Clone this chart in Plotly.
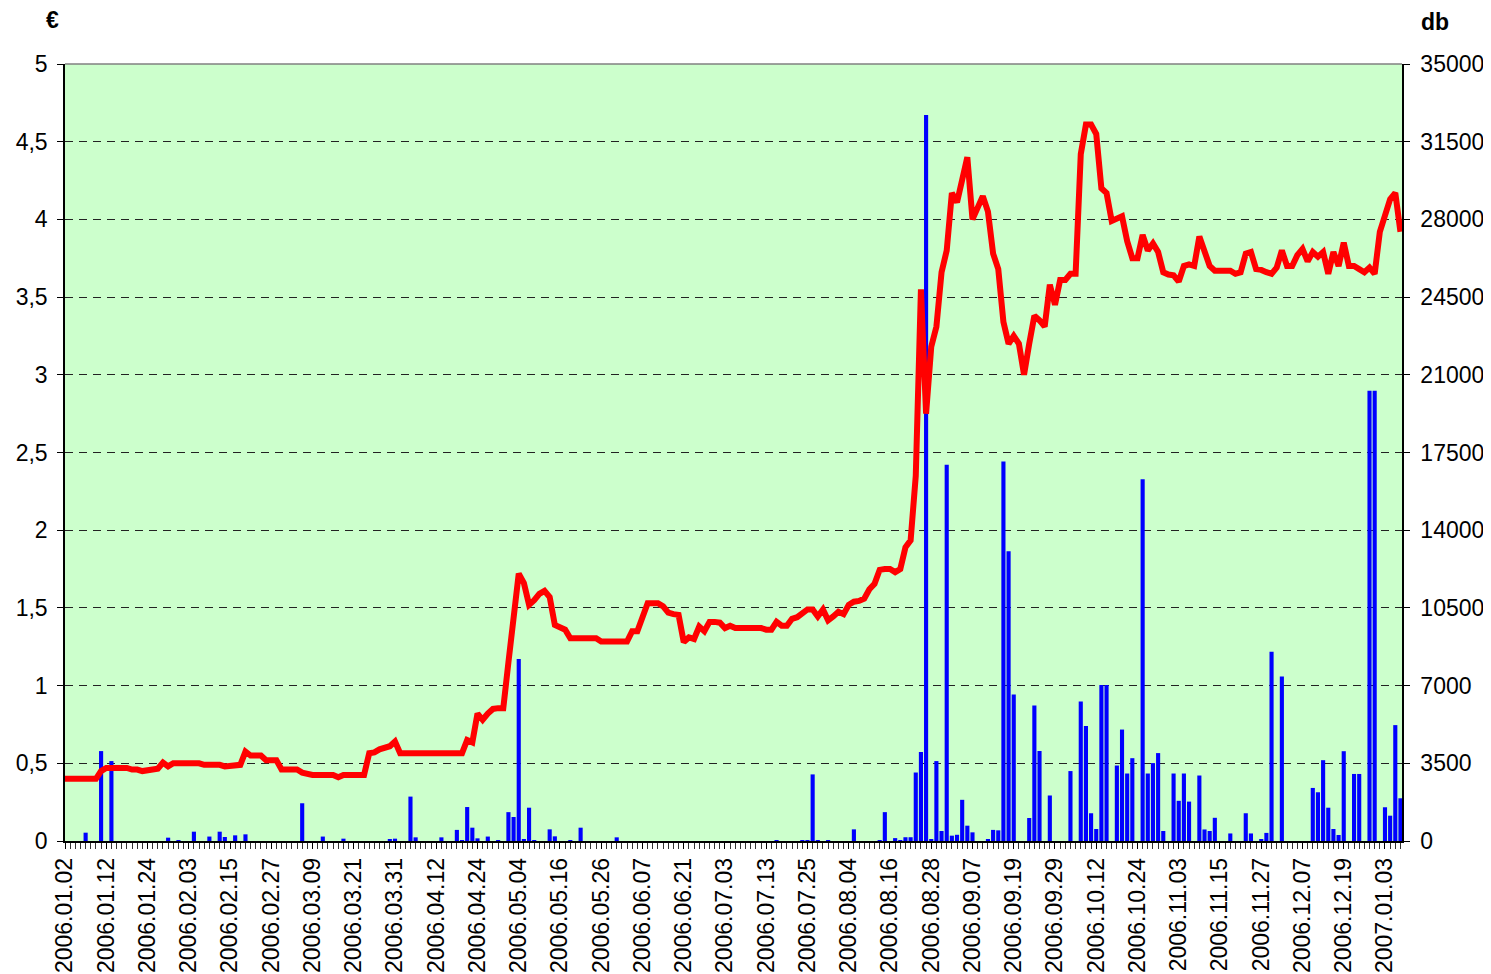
import plotly.graph_objects as go

# Tick labels on the category axis (every 8th trading day)
TICK_LABELS = ["2006.01.02", "2006.01.12", "2006.01.24", "2006.02.03", "2006.02.15",
               "2006.02.27", "2006.03.09", "2006.03.21", "2006.03.31", "2006.04.12",
               "2006.04.24", "2006.05.04", "2006.05.16", "2006.05.26", "2006.06.07",
               "2006.06.21", "2006.07.03", "2006.07.13", "2006.07.25", "2006.08.04",
               "2006.08.16", "2006.08.28", "2006.09.07", "2006.09.19", "2006.09.29",
               "2006.10.12", "2006.10.24", "2006.11.03", "2006.11.15", "2006.11.27",
               "2006.12.07", "2006.12.19", "2007.01.03"]
LABEL_STEP = 8

# Price in EUR (red line), one value per trading day
PRICE = [
    0.40, 0.40, 0.40, 0.40, 0.40, 0.40, 0.40, 0.45, 0.47, 0.47,
    0.47, 0.47, 0.47, 0.46, 0.46, 0.45, 0.46, 0.46, 0.465, 0.505,
    0.48, 0.50, 0.50, 0.50, 0.50, 0.50, 0.50, 0.49, 0.49, 0.49,
    0.49, 0.48, 0.485, 0.49, 0.49, 0.575, 0.55, 0.55, 0.55, 0.52,
    0.52, 0.52, 0.46, 0.46, 0.46, 0.46, 0.44, 0.43, 0.425, 0.425,
    0.425, 0.425, 0.425, 0.41, 0.425, 0.425, 0.425, 0.425, 0.425, 0.565,
    0.57, 0.59, 0.60, 0.61, 0.64, 0.565, 0.565, 0.565, 0.565, 0.565,
    0.565, 0.565, 0.565, 0.565, 0.565, 0.565, 0.565, 0.565, 0.65, 0.635,
    0.82, 0.78, 0.82, 0.85, 0.855, 0.855, 1.15, 1.45, 1.72, 1.66,
    1.52, 1.55, 1.59, 1.61, 1.57, 1.39, 1.37, 1.36, 1.305, 1.305,
    1.305, 1.305, 1.305, 1.305, 1.283, 1.283, 1.283, 1.283, 1.283, 1.283,
    1.35, 1.35, 1.44, 1.53, 1.53, 1.53, 1.51, 1.47, 1.46, 1.455,
    1.28, 1.31, 1.30, 1.38, 1.35, 1.41, 1.41, 1.405, 1.37, 1.385,
    1.37, 1.37, 1.37, 1.37, 1.37, 1.37, 1.36, 1.36, 1.41, 1.385,
    1.385, 1.43, 1.44, 1.465, 1.49, 1.49, 1.445, 1.49, 1.42, 1.445,
    1.475, 1.46, 1.52, 1.54, 1.545, 1.56, 1.62, 1.655, 1.745, 1.75,
    1.75, 1.73, 1.75, 1.89, 1.935, 2.35, 3.55, 2.75, 3.18, 3.31,
    3.66, 3.80, 4.17, 4.11, 4.28, 4.40, 4.00, 4.08, 4.15, 4.05,
    3.78, 3.68, 3.34, 3.20, 3.25, 3.20, 3.00, 3.20, 3.38, 3.35,
    3.31, 3.58, 3.45, 3.61, 3.61, 3.65, 3.65, 4.42, 4.61, 4.61,
    4.55, 4.20, 4.17, 3.99, 4.00, 4.02, 3.86, 3.75, 3.75, 3.90,
    3.80, 3.845, 3.79, 3.66, 3.645, 3.64, 3.60, 3.70, 3.71, 3.70,
    3.89, 3.78, 3.70, 3.67, 3.67, 3.67, 3.67, 3.65, 3.66, 3.78,
    3.79, 3.68, 3.675, 3.66, 3.65, 3.69, 3.80, 3.70, 3.70, 3.77,
    3.81, 3.73, 3.79, 3.76, 3.79, 3.65, 3.79, 3.70, 3.85, 3.70,
    3.70, 3.68, 3.66, 3.69, 3.65, 3.92, 4.02, 4.13, 4.17, 3.92,
]

# Traded volume in pieces (db), blue bars
VOLUME = [
    0, 0, 0, 0, 375, 0, 0, 4050, 0, 3600,
    0, 0, 0, 0, 0, 0, 0, 0, 0, 0,
    150, 0, 45, 0, 0, 420, 0, 0, 200, 0,
    420, 180, 0, 255, 0, 300, 0, 0, 0, 0,
    0, 0, 0, 0, 0, 0, 1700, 0, 0, 0,
    200, 0, 0, 0, 105, 0, 0, 0, 0, 0,
    0, 0, 0, 50, 105, 0, 0, 2000, 165, 0,
    0, 0, 0, 165, 0, 0, 500, 30, 1530, 600,
    120, 0, 200, 0, 30, 0, 1300, 1080, 8200, 90,
    1500, 45, 0, 0, 525, 210, 0, 0, 45, 0,
    600, 0, 0, 0, 0, 0, 0, 165, 0, 0,
    0, 0, 0, 0, 0, 0, 0, 0, 0, 0,
    0, 0, 0, 0, 0, 0, 0, 0, 0, 0,
    0, 0, 0, 0, 0, 0, 0, 0, 30, 0,
    0, 0, 0, 30, 30, 3000, 30, 0, 30, 0,
    0, 0, 0, 525, 0, 0, 0, 0, 30, 1300,
    0, 130, 40, 170, 170, 3085, 4010, 32700, 90, 3600,
    450, 16950, 240, 280, 1855, 690, 390, 0, 0, 60,
    500, 480, 17100, 13050, 6600, 0, 0, 1035, 6100, 4055,
    0, 2050, 0, 0, 0, 3150, 0, 6280, 5180, 1250,
    540, 7030, 7030, 0, 3400, 5020, 3040, 3730, 0, 16300,
    3040, 3510, 3960, 450, 0, 3040, 1810, 3040, 1775, 0,
    2950, 520, 450, 1045, 0, 0, 340, 0, 0, 1250,
    340, 0, 80, 365, 8530, 0, 7415, 0, 0, 0,
    0, 0, 2390, 2195, 3640, 1500, 540, 270, 4045, 0,
    3020, 3020, 0, 20280, 20280, 0, 1520, 1140, 5220, 1925,
]

PRICE_TICKS = [0, 0.5, 1, 1.5, 2, 2.5, 3, 3.5, 4, 4.5, 5]
VOLUME_TICKS = [0, 3500, 7000, 10500, 14000, 17500, 21000, 24500, 28000, 31500, 35000]

FONT = "Liberation Sans, Arial, sans-serif"
idx = list(range(len(PRICE)))
tick_pos = [i * LABEL_STEP for i in range(len(TICK_LABELS))]

fig = go.Figure()
fig.add_trace(go.Bar(x=idx, y=VOLUME, marker=dict(color="#0000FF", line=dict(width=0)),
                     yaxis="y", showlegend=False))
fig.add_trace(go.Scatter(x=idx, y=PRICE, mode="lines", line=dict(color="#FF0000", width=6),
                         yaxis="y2", showlegend=False))

fig.update_layout(
    width=1491, height=974,
    margin=dict(l=57, r=97, t=56, b=141, autoexpand=False),
    paper_bgcolor="white", plot_bgcolor="#CCFFCC",
    font=dict(family=FONT, size=23, color="black"),
    bargap=0.2,
    xaxis=dict(
        range=[0, len(PRICE) - 0.7], tickmode="array", tickvals=tick_pos, ticktext=TICK_LABELS,
        tickangle=-90, ticks="outside", ticklen=6, tickcolor="black", tickwidth=1,
        showline=True, linecolor="black", linewidth=1.5, showgrid=False, zeroline=False,
        minor=dict(dtick=1, tick0=0, ticks="outside", ticklen=6, tickcolor="#333333", tickwidth=1),
        tickfont=dict(size=23),
    ),
    yaxis=dict(
        side="right", range=[0, 35000], tickmode="array", tickvals=VOLUME_TICKS,
        ticktext=[str(v) for v in VOLUME_TICKS], ticks="outside", ticklen=6, tickcolor="black",
        showline=True, linecolor="black", linewidth=1.5, ticklabelstandoff=6,
        showgrid=True, gridcolor="#222222", gridwidth=1, griddash="8px,6px", zeroline=False,
        tickfont=dict(size=23),
    ),
    yaxis2=dict(
        overlaying="y", side="left", range=[0, 5], tickmode="array", tickvals=PRICE_TICKS,
        ticktext=[("%g" % v).replace(".", ",") for v in PRICE_TICKS], ticks="outside",
        ticklen=6, tickcolor="black", showline=True, linecolor="black", linewidth=1.5,
        ticklabelstandoff=5, showgrid=False, zeroline=False, tickfont=dict(size=23),
    ),
    shapes=[dict(type="line", xref="paper", yref="paper", x0=0, x1=1, y0=1, y1=1,
                 line=dict(color="#808080", width=1.5))],
    annotations=[
        dict(text="<b>€</b>", xref="paper", yref="paper", x=-0.009, y=1.057, showarrow=False,
             xanchor="center", yanchor="middle", font=dict(size=23)),
        dict(text="<b>db</b>", xref="paper", yref="paper", x=1.025, y=1.054, showarrow=False,
             xanchor="center", yanchor="middle", font=dict(size=23)),
    ],
)

fig.write_html("out.html")
